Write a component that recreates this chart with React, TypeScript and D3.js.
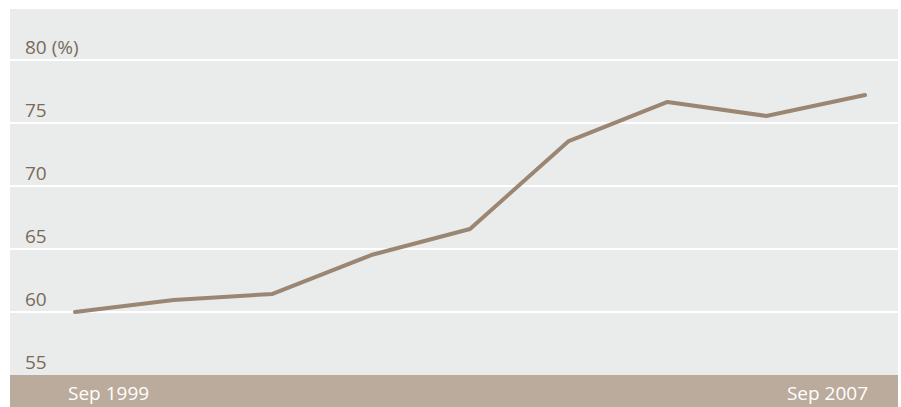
import React from "react";
import * as d3 from "d3";

const years = [1999, 2000, 2001, 2002, 2003, 2004, 2005, 2006, 2007];
const values = [60.0, 60.95, 61.43, 64.52, 66.59, 73.57, 76.67, 75.56, 77.22];
const yTicks = [55, 60, 65, 70, 75, 80];
const xLabels = ["Sep 1999", "Sep 2007"];

const W = 901;
const H = 407;

export default function App() {
  const x = d3.scaleLinear().domain([1999, 2007]).range([75, 865]);
  const y = d3.scaleLinear().domain([55, 80]).range([375, 60]);
  const line = d3
    .line<number>()
    .x((_, i) => x(years[i]))
    .y((d) => y(d));
  const font = "'Open Sans', Lato, sans-serif";
  return (
    <svg
      width={W}
      height={H}
      style={{ position: "absolute", left: 0, top: 0 }}
    >
      <rect x={0} y={0} width={W} height={H} fill="#ffffff" />
      <rect x={10} y={9} width={888} height={366} fill="#eaeceb" />
      <rect x={10} y={375} width={888} height={32} fill="#bbab9c" />
      {yTicks
        .filter((t) => t > 55)
        .map((t) => (
          <line
            key={t}
            x1={10}
            x2={898}
            y1={y(t)}
            y2={y(t)}
            stroke="#ffffff"
            strokeWidth={2}
          />
        ))}
      {yTicks.map((t) => (
        <text
          key={"l" + t}
          x={25}
          y={y(t) - 6}
          fill="#7a6a5a"
          fontFamily={font}
          fontSize={19}
        >
          {t === 80 ? "80 (%)" : String(t)}
        </text>
      ))}
      <path
        d={line(values) || ""}
        fill="none"
        stroke="#9a8672"
        strokeWidth={4}
        strokeLinejoin="round"
        strokeLinecap="round"
      />
      <text x={68} y={400} fill="#ffffff" fontFamily={font} fontSize={19}>
        {xLabels[0]}
      </text>
      <text
        x={868}
        y={400}
        fill="#ffffff"
        fontFamily={font}
        fontSize={19}
        textAnchor="end"
      >
        {xLabels[1]}
      </text>
    </svg>
  );
}
